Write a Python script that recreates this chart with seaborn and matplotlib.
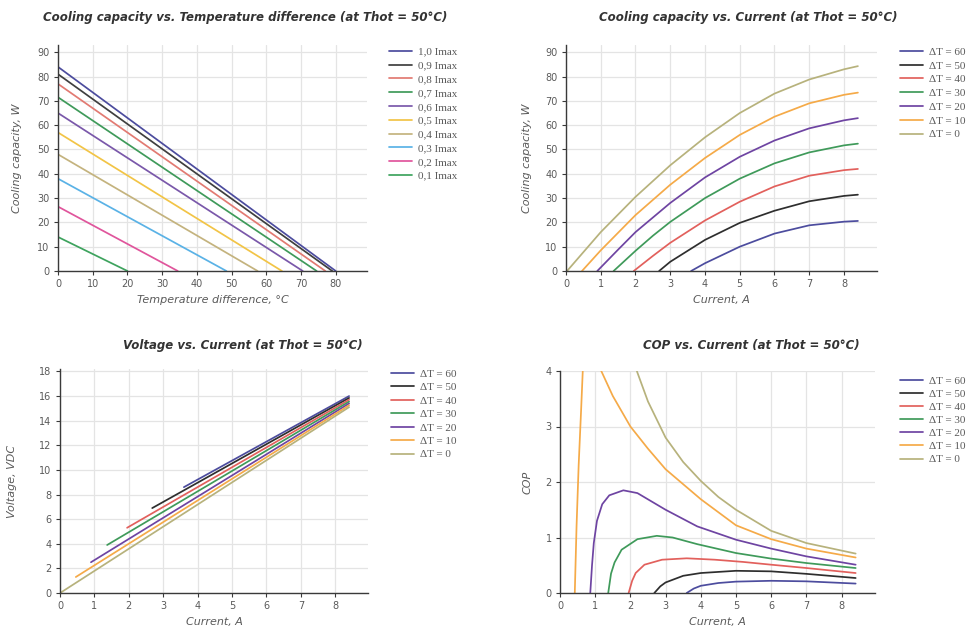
import matplotlib
matplotlib.use("Agg")
import matplotlib.pyplot as plt
import pandas as pd
import seaborn as sns

# ---------------------------------------------------------------------------
# Cooling capacity vs temperature difference, one straight line per current
# fraction: capacity at dT = 0 and the dT where capacity reaches zero.
IMAX_LABELS = ["1,0 Imax", "0,9 Imax", "0,8 Imax", "0,7 Imax", "0,6 Imax",
               "0,5 Imax", "0,4 Imax", "0,3 Imax", "0,2 Imax", "0,1 Imax"]
Q_AT_ZERO_DT = [84, 81, 77, 71.5, 65, 57, 48, 38, 26.5, 14]
DT_AT_ZERO_Q = [80, 79, 77, 74.5, 70.5, 64.5, 57.5, 48.5, 34.5, 20]
IMAX_COLORS = ["#4c4c9e", "#3f3f3f", "#e27a72", "#3f9a5a", "#7a58aa",
               "#f2c446", "#c4b37e", "#5ab2e6", "#e0559c", "#3ea35e"]

# ---------------------------------------------------------------------------
# Curves against current, one per temperature difference
DT_LABELS = ["ΔT = 60", "ΔT = 50", "ΔT = 40", "ΔT = 30",
             "ΔT = 20", "ΔT = 10", "ΔT = 0"]
DT_COLORS = ["#4c4c9e", "#2e2e2e", "#e2605c", "#3f9a5a",
             "#6e44a2", "#f5aa48", "#b7b27c"]

# Cooling capacity, W
I_Q_DT60 = [3.6, 4, 5, 6, 7, 8, 8.4]
Q_DT60 = [0, 3.2, 10, 15.4, 18.8, 20.3, 20.6]
I_Q_DT50 = [2.68, 3, 4, 5, 6, 7, 8, 8.4]
Q_DT50 = [0, 3.8, 12.8, 19.8, 24.8, 28.7, 30.9, 31.4]
I_Q_DT40 = [1.95, 2.5, 3, 4, 5, 6, 7, 8, 8.4]
Q_DT40 = [0, 6.2, 11.6, 20.8, 28.5, 34.8, 39.2, 41.5, 42]
I_Q_DT30 = [1.37, 2, 2.5, 3, 4, 5, 6, 7, 8, 8.4]
Q_DT30 = [0, 8.3, 14.5, 20.2, 30, 38, 44.3, 48.8, 51.7, 52.4]
I_Q_DT20 = [0.9, 1.5, 2, 3, 4, 5, 6, 7, 8, 8.4]
Q_DT20 = [0, 8.8, 16, 28, 38.5, 47, 53.7, 58.7, 62, 62.9]
I_Q_DT10 = [0.46, 1, 2, 3, 4, 5, 6, 7, 8, 8.4]
Q_DT10 = [0, 8.5, 23, 35.5, 46.5, 56, 63.5, 69, 72.5, 73.4]
I_Q_DT0 = [0.03, 1, 2, 3, 4, 5, 6, 7, 8, 8.4]
Q_DT0 = [0, 16, 30.5, 43.5, 55, 65, 73, 78.8, 83, 84.3]

# Voltage, VDC (straight lines from the first operating point to 8.4 A)
I_V_START = [3.6, 2.68, 1.95, 1.37, 0.9, 0.46, 0.03]
V_START = [8.6, 6.9, 5.3, 3.9, 2.5, 1.3, 0.05]
I_V_END = [8.4, 8.4, 8.4, 8.4, 8.4, 8.4, 8.4]
V_END = [16.0, 15.85, 15.7, 15.55, 15.4, 15.25, 15.1]

# Coefficient of performance
I_COP_DT60 = [3.6, 3.8, 4.0, 4.5, 5, 6, 7, 8.4]
COP_DT60 = [0, 0.08, 0.13, 0.18, 0.205, 0.22, 0.21, 0.17]
I_COP_DT50 = [2.68, 2.85, 3.0, 3.5, 4, 5, 6, 7, 8.4]
COP_DT50 = [0, 0.12, 0.19, 0.31, 0.36, 0.4, 0.39, 0.345, 0.27]
I_COP_DT40 = [1.95, 2.05, 2.15, 2.4, 2.9, 3.6, 4.4, 5.2, 6, 7, 8.4]
COP_DT40 = [0, 0.22, 0.36, 0.51, 0.6, 0.625, 0.6, 0.56, 0.51, 0.45, 0.36]
I_COP_DT30 = [1.37, 1.45, 1.55, 1.75, 2.2, 2.75, 3.2, 3.9, 5, 6, 7, 8.4]
COP_DT30 = [0, 0.35, 0.55, 0.78, 0.97, 1.03, 1.0, 0.88, 0.72, 0.62, 0.54, 0.45]
I_COP_DT20 = [0.86, 0.91, 0.96, 1.05, 1.2, 1.4, 1.8, 2.2, 3.0, 3.9, 5, 6, 7, 8.4]
COP_DT20 = [0, 0.5, 0.9, 1.3, 1.6, 1.76, 1.85, 1.8, 1.5, 1.2, 0.96, 0.8, 0.66, 0.51]
I_COP_DT10 = [0.42, 0.47, 0.53, 0.6, 0.66, 0.8, 0.95, 1.1, 1.5, 2.0, 2.5,
              3.0, 4.0, 5.0, 6.0, 7.0, 8.4]
COP_DT10 = [0, 1.2, 2.3, 3.3, 4.2, 5.0, 4.6, 4.1, 3.55, 3.0, 2.6,
            2.23, 1.69, 1.22, 0.97, 0.8, 0.64]
I_COP_DT0 = [1.6, 1.9, 2.2, 2.5, 3.0, 3.5, 4.0, 4.5, 5.0, 6.0, 7.0, 8.4]
COP_DT0 = [5.6, 4.55, 3.97, 3.45, 2.8, 2.36, 2.02, 1.73, 1.5, 1.12, 0.9, 0.71]

TITLES = ["Cooling capacity vs. Temperature difference (at Thot = 50°C)",
          "Cooling capacity vs. Current (at Thot = 50°C)",
          "Voltage vs. Current (at Thot = 50°C)",
          "COP vs. Current (at Thot = 50°C)"]


def long_frame(labels, xs_list, ys_list):
    rows = []
    for lab, xs, ys in zip(labels, xs_list, ys_list):
        for x, y in zip(xs, ys):
            rows.append({"x": x, "y": y, "series": lab})
    return pd.DataFrame(rows)


sns.set_theme(style="whitegrid")
plt.rcParams["font.family"] = ["DejaVu Sans"]

W, H = 975, 633
fig = plt.figure(figsize=(W / 100, H / 100), dpi=100)


def px_axes(left, top, right, bottom):
    return fig.add_axes([left / W, 1 - bottom / H, (right - left) / W, (bottom - top) / H])


TEXT_GRAY = "#5a5a5a"


def style_axes(ax, xlabel, ylabel, xlim, ylim, xticks, yticks, ylab_x):
    ax.set_xlim(*xlim)
    ax.set_ylim(*ylim)
    ax.set_xticks(xticks)
    ax.set_yticks(yticks)
    ax.grid(True, color="#e4e4e4", linewidth=0.9)
    for s in ("top", "right"):
        ax.spines[s].set_visible(False)
    for s in ("left", "bottom"):
        ax.spines[s].set_color("#3a3a3a")
        ax.spines[s].set_linewidth(1.0)
    ax.tick_params(axis="both", which="major", bottom=True, left=True, length=3,
                   width=0.8, color="#3a3a3a", labelsize=7, labelcolor=TEXT_GRAY, pad=3)
    ax.set_xlabel(xlabel, fontsize=8, style="italic", color=TEXT_GRAY, labelpad=4)
    ax.set_ylabel(ylabel, fontsize=8, style="italic", color=TEXT_GRAY)
    ax.yaxis.set_label_coords(ylab_x, 0.5)


def place_legend(ax, x_px, top_px, spacing):
    handles, labels = ax.get_legend_handles_labels()
    ax.legend(handles, labels, loc="upper left",
              bbox_to_anchor=(x_px / W, 1 - top_px / H), bbox_transform=fig.transFigure,
              frameon=False, borderpad=0, borderaxespad=0, handlelength=2.1,
              handletextpad=0.5, labelspacing=spacing,
              prop={"family": ["Liberation Serif", "DejaVu Serif"], "size": 8},
              labelcolor=TEXT_GRAY)


LW = 1.25

# ---- top left: capacity vs temperature difference
ax1 = px_axes(58, 45, 367, 271)
df1 = long_frame(IMAX_LABELS,
                 [[0, dt] for dt in DT_AT_ZERO_Q],
                 [[q, 0] for q in Q_AT_ZERO_DT])
sns.lineplot(data=df1, x="x", y="y", hue="series", hue_order=IMAX_LABELS,
             palette=dict(zip(IMAX_LABELS, IMAX_COLORS)), estimator=None,
             sort=False, linewidth=LW, ax=ax1)
style_axes(ax1, "Temperature difference, °C", "Cooling capacity, W",
           (0, 89), (0, 93), range(0, 81, 10), range(0, 91, 10), -0.117)
place_legend(ax1, 389, 47, 0.36)

# ---- top right: capacity vs current
ax2 = px_axes(566, 45, 877, 271)
df2 = long_frame(DT_LABELS,
                 [I_Q_DT60, I_Q_DT50, I_Q_DT40, I_Q_DT30, I_Q_DT20, I_Q_DT10, I_Q_DT0],
                 [Q_DT60, Q_DT50, Q_DT40, Q_DT30, Q_DT20, Q_DT10, Q_DT0])
sns.lineplot(data=df2, x="x", y="y", hue="series", hue_order=DT_LABELS,
             palette=dict(zip(DT_LABELS, DT_COLORS)), estimator=None,
             sort=False, linewidth=LW, ax=ax2)
style_axes(ax2, "Current, A", "Cooling capacity, W",
           (0, 8.95), (0, 93), range(0, 9), range(0, 91, 10), -0.108)
place_legend(ax2, 900, 47, 0.36)

# ---- bottom left: voltage vs current
ax3 = px_axes(60, 369, 368, 593)
df3 = long_frame(DT_LABELS,
                 [[a, b] for a, b in zip(I_V_START, I_V_END)],
                 [[a, b] for a, b in zip(V_START, V_END)])
sns.lineplot(data=df3, x="x", y="y", hue="series", hue_order=DT_LABELS,
             palette=dict(zip(DT_LABELS, DT_COLORS)), estimator=None,
             sort=False, linewidth=LW, ax=ax3)
style_axes(ax3, "Current, A", "Voltage, VDC",
           (0, 8.95), (0, 18.2), range(0, 9), range(0, 19, 2), -0.138)
place_legend(ax3, 391, 369, 0.33)

# ---- bottom right: COP vs current
ax4 = px_axes(560, 371, 875, 593)
df4 = long_frame(DT_LABELS,
                 [I_COP_DT60, I_COP_DT50, I_COP_DT40, I_COP_DT30, I_COP_DT20,
                  I_COP_DT10, I_COP_DT0],
                 [COP_DT60, COP_DT50, COP_DT40, COP_DT30, COP_DT20, COP_DT10, COP_DT0])
sns.lineplot(data=df4, x="x", y="y", hue="series", hue_order=DT_LABELS,
             palette=dict(zip(DT_LABELS, DT_COLORS)), estimator=None,
             sort=False, linewidth=LW, ax=ax4)
style_axes(ax4, "Current, A", "COP",
           (0, 8.95), (0, 4), range(0, 9), range(0, 5), -0.086)
place_legend(ax4, 900, 376, 0.3)

# ---- titles
for (cx, cy), text in zip([(245, 18), (748, 18), (243, 345), (751, 345)], TITLES):
    fig.text(cx / W, 1 - cy / H, text, ha="center", va="center", fontsize=8.5,
             fontweight="bold", style="italic", color="#333333")

fig.savefig("out.png", dpi=100, facecolor="white")
